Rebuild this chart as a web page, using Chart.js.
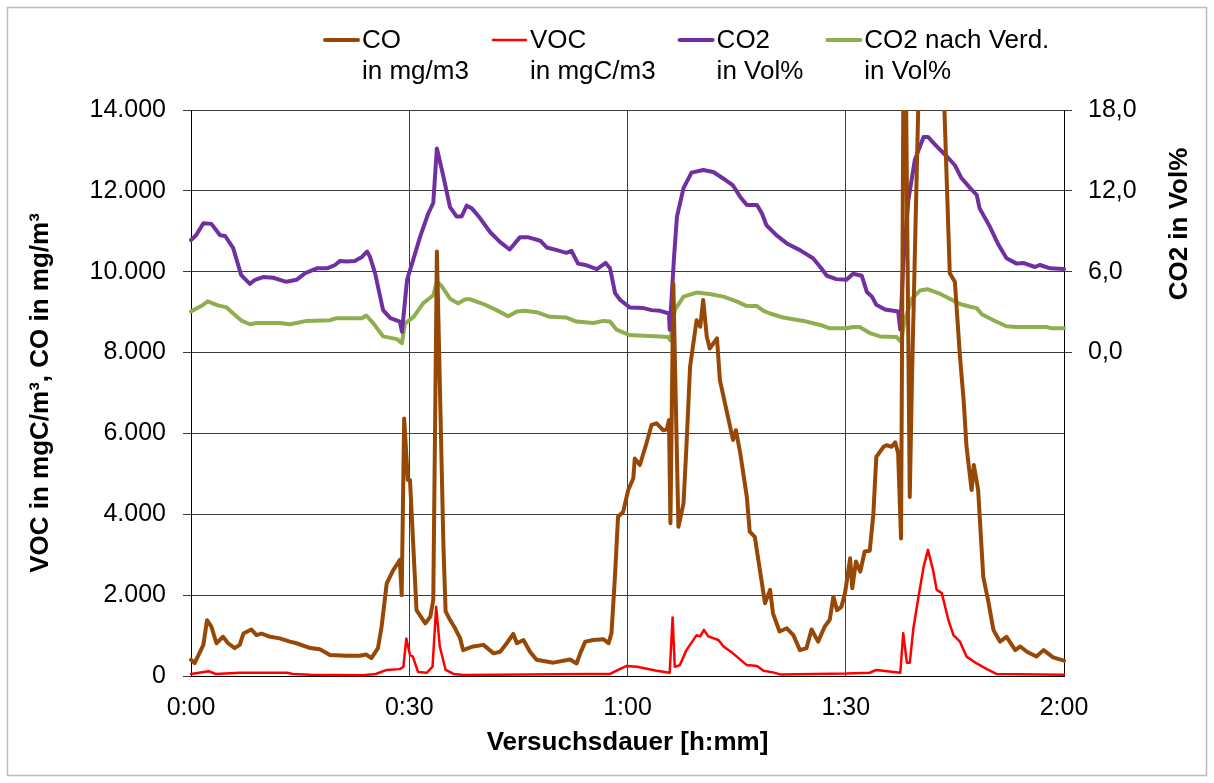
<!DOCTYPE html>
<html>
<head>
<meta charset="utf-8">
<script src="https://cdn.jsdelivr.net/npm/chart.js@4"></script>
<style>
  html, body { margin: 0; padding: 0; background: #fff; }
  #wrap { width: 1214px; height: 783px; }
</style>
</head>
<body>
<div id="wrap"><canvas id="myChart" width="1214" height="783"></canvas></div>
<script>
// Versuchsdauer in Minuten, Messwerte je Kanal
const coMin = [0, 0.5, 1.7, 2.2, 2.8, 3.5, 4.4, 5.1, 6.0, 6.7, 7.2, 8.3, 9.0, 9.7, 10.9, 12.2, 13.6, 14.5, 16.4, 17.7, 19.1, 21.4, 23.2, 24.1, 24.8, 25.7, 26.2, 26.9, 27.8, 28.7, 28.96, 29.3, 29.8, 30.1, 31.0, 32.2, 32.9, 33.3, 33.8, 34.7, 35.0, 35.6, 36.3, 37.0, 37.4, 38.8, 40.2, 41.6, 42.5, 43.4, 44.3, 44.8, 45.7, 46.6, 47.5, 49.8, 52.1, 53.0, 53.5, 54.2, 55.3, 56.7, 57.4, 57.8, 58.3, 58.7, 59.4, 60.1, 60.8, 61.0, 61.7, 62.6, 63.3, 64.0, 64.9, 65.4, 65.7, 65.9, 66.3, 67.0, 67.7, 68.1, 68.6, 69.5, 70.0, 70.4, 70.9, 71.3, 72.3, 72.7, 73.6, 74.5, 74.9, 75.5, 76.4, 76.8, 77.5, 78.2, 78.9, 79.6, 80.0, 80.9, 81.9, 82.8, 83.7, 84.6, 85.3, 86.2, 87.1, 87.8, 88.3, 88.8, 89.4, 89.9, 90.6, 90.9, 91.4, 92.0, 92.6, 93.3, 93.8, 94.2, 95.2, 95.6, 96.3, 96.8, 97.2, 97.6, 98.05, 98.8, 99.1, 100.6, 103.2, 104.3, 105.0, 105.7, 106.2, 106.6, 107.3, 107.6, 108.2, 108.9, 109.6, 110.3, 111.2, 112.1, 113.3, 114.0, 114.9, 116.2, 117.2, 118.5, 120];
const coVal = [400, 320, 770, 1380, 1220, 810, 970, 810, 690, 770, 1050, 1150, 1010, 1050, 970, 930, 850, 810, 690, 660, 520, 500, 500, 530, 440, 690, 1220, 2290, 2620, 2870, 2000, 6370, 4850, 4850, 1630, 1300, 1470, 1880, 10500, 3200, 1600, 1390, 1180, 930, 640, 730, 770, 560, 600, 810, 1040, 810, 890, 600, 400, 330, 410, 310, 560, 850, 890, 910, 810, 1060, 2540, 3940, 4060, 4600, 4890, 5380, 5220, 5750, 6210, 6250, 6080, 6100, 6330, 3780, 9700, 3690, 4270, 5670, 7650, 8800, 8640, 9300, 8390, 8100, 8350, 7320, 6580, 5840, 6080, 5510, 4430, 3570, 3440, 2620, 1800, 2130, 1550, 1100, 1180, 1010, 640, 690, 1150, 850, 1220, 1390, 1960, 1630, 1710, 2050, 2910, 2170, 2830, 2580, 3080, 3100, 4020, 5420, 5670, 5710, 5670, 5780, 5510, 3400, 19000, 4430, 7320, 19000, 16000, 9960, 9750, 7900, 6830, 5670, 4600, 5220, 4600, 2460, 1840, 1140, 850, 970, 640, 730, 600, 480, 640, 460, 380];

const vocMin = [0, 2.4, 3.4, 6.7, 13.2, 14.0, 16.4, 23.6, 25.4, 26.9, 28.7, 29.2, 29.6, 30.1, 30.5, 31.2, 32.4, 33.2, 33.7, 34.2, 35.0, 36.1, 37.5, 54.4, 57.6, 58.5, 59.9, 61.3, 64.0, 65.8, 66.2, 66.5, 67.2, 68.1, 69.5, 70.0, 70.5, 71.1, 72.5, 73.2, 74.5, 76.4, 77.8, 78.7, 80.0, 81.0, 90.1, 93.3, 94.2, 97.5, 97.9, 98.4, 98.8, 99.3, 100.0, 100.7, 101.3, 102.0, 102.5, 103.2, 104.1, 104.8, 105.7, 106.6, 108.0, 109.4, 110.7, 120];
const vocVal = [50, 120, 50, 80, 80, 50, 30, 20, 50, 150, 170, 230, 930, 520, 480, 100, 80, 230, 1710, 730, 150, 50, 25, 50, 50, 130, 250, 230, 130, 80, 1450, 230, 270, 640, 1010, 980, 1140, 980, 890, 730, 560, 270, 250, 130, 90, 40, 60, 80, 150, 80, 1060, 330, 330, 1180, 1960, 2700, 3120, 2620, 2130, 2050, 1390, 1010, 850, 480, 310, 170, 50, 30];

const co2Min = [0, 0.7, 1.7, 2.8, 4.0, 4.7, 5.8, 6.9, 8.1, 8.8, 9.9, 11.3, 13.1, 14.5, 15.7, 17.3, 18.7, 19.8, 20.5, 21.4, 22.5, 23.5, 24.2, 24.6, 25.3, 26.4, 27.4, 28.7, 29.0, 29.7, 30.1, 31.5, 32.6, 33.3, 33.8, 34.7, 35.6, 36.5, 37.2, 37.9, 38.6, 39.7, 41.1, 42.5, 43.8, 45.2, 46.4, 48.0, 48.9, 50.3, 51.6, 52.3, 53.2, 54.2, 55.8, 57.0, 57.6, 58.3, 59.0, 60.3, 62.2, 63.3, 64.5, 65.7, 65.8, 66.4, 66.8, 67.7, 68.8, 70.4, 71.8, 73.2, 74.5, 75.5, 76.4, 77.8, 78.5, 79.1, 80.5, 81.9, 83.7, 85.5, 86.5, 87.4, 88.7, 90.1, 91.0, 92.2, 92.9, 93.6, 94.2, 95.4, 97.2, 97.5, 97.9, 98.6, 99.5, 100.7, 101.3, 102.5, 103.9, 105.0, 105.9, 107.1, 108.0, 108.4, 109.8, 111.0, 112.1, 113.5, 114.4, 116.0, 116.7, 118.1, 120];
const co2Val = [8.35, 8.7, 9.6, 9.55, 8.7, 8.65, 7.75, 5.75, 5.1, 5.4, 5.6, 5.55, 5.25, 5.4, 5.9, 6.25, 6.25, 6.5, 6.8, 6.75, 6.8, 7.1, 7.5, 7.1, 5.9, 3.15, 2.55, 2.3, 1.55, 5.4, 6.1, 8.6, 10.3, 11.1, 15.15, 13.05, 10.8, 10.1, 10.1, 10.9, 10.7, 10.0, 8.95, 8.2, 7.65, 8.55, 8.55, 8.3, 7.8, 7.6, 7.4, 7.55, 6.6, 6.5, 6.2, 6.65, 6.25, 4.4, 3.9, 3.35, 3.3, 3.15, 3.1, 2.9, 1.7, 7.1, 10.1, 12.2, 13.35, 13.55, 13.4, 12.9, 12.4, 11.55, 10.95, 10.95, 10.3, 9.45, 8.7, 8.1, 7.6, 7.0, 6.35, 5.7, 5.45, 5.4, 5.85, 5.7, 4.5, 4.15, 3.55, 3.2, 3.05, 1.7, 6.6, 11.3, 14.3, 16.0, 16.0, 15.3, 14.55, 13.9, 12.95, 12.2, 11.7, 10.7, 9.35, 8.0, 7.0, 6.6, 6.65, 6.35, 6.5, 6.25, 6.2];

const co2vMin = [0, 1.4, 2.3, 3.7, 4.9, 5.8, 7.0, 8.1, 9.0, 12.2, 13.6, 15.9, 19.1, 20.0, 23.5, 24.1, 25.1, 26.4, 28.3, 29.0, 29.4, 30.6, 31.9, 33.3, 33.8, 34.5, 35.6, 36.7, 37.7, 38.4, 40.2, 42.0, 43.6, 44.8, 45.9, 47.5, 49.3, 51.6, 53.0, 55.3, 56.7, 57.6, 58.5, 60.3, 62.2, 64.5, 65.6, 65.9, 66.5, 67.7, 69.5, 71.3, 73.2, 75.0, 76.4, 77.8, 78.7, 79.6, 81.4, 84.2, 86.5, 87.8, 90.1, 91.0, 91.9, 93.3, 94.7, 97.0, 97.6, 98.1, 99.1, 100.2, 101.2, 103.0, 104.3, 105.7, 107.1, 108.0, 108.7, 110.3, 112.1, 113.5, 117.6, 118.3, 120];
const co2vVal = [3.05, 3.45, 3.8, 3.5, 3.35, 2.9, 2.35, 2.1, 2.2, 2.2, 2.1, 2.35, 2.4, 2.55, 2.55, 2.75, 2.15, 1.2, 1.0, 0.7, 2.15, 2.65, 3.65, 4.25, 5.25, 4.9, 4.0, 3.65, 3.95, 3.95, 3.6, 3.15, 2.7, 3.05, 3.1, 3.0, 2.65, 2.6, 2.3, 2.2, 2.35, 2.3, 1.7, 1.3, 1.25, 1.2, 1.15, 0.9, 3.15, 4.15, 4.45, 4.35, 4.15, 3.8, 3.45, 3.45, 3.1, 2.9, 2.6, 2.35, 2.05, 1.8, 1.8, 1.9, 1.9, 1.45, 1.2, 1.15, 0.8, 2.4, 4.0, 4.6, 4.7, 4.35, 4.0, 3.6, 3.4, 3.3, 2.85, 2.4, 1.95, 1.9, 1.9, 1.8, 1.8];

const legendText = [['CO', 'in mg/m3'], ['VOC', 'in mgC/m3'], ['CO2', 'in Vol%'], ['CO2 nach Verd.', 'in Vol%']];
const xTicks = [0, 30, 60, 90, 120];

const toPoints = (xs, ys) => xs.map((x, i) => ({ x: x, y: ys[i] }));

const FONT = "'Liberation Sans', Arial, sans-serif";
Chart.defaults.font.family = FONT;
Chart.defaults.font.size = 25;
Chart.defaults.color = '#000';

const gridColor = '#3c3c3c';

// Rahmen, Legende und rechte Achsenbeschriftung
const extras = {
  id: 'extras',
  beforeDraw(chart) {
    const c = chart.ctx;
    c.save();
    c.fillStyle = '#fff';
    c.fillRect(0, 0, chart.width, chart.height);
    c.strokeStyle = '#bcbcbc';
    c.lineWidth = 1.5;
    c.strokeRect(7.5, 7.5, 1199, 768);
    c.restore();
  },
  afterDraw(chart) {
    const c = chart.ctx;
    c.save();
    c.font = '26px ' + FONT;
    c.textBaseline = 'middle';
    let x = 325;
    chart.data.datasets.forEach((ds, i) => {
      c.strokeStyle = ds.borderColor;
      c.lineWidth = ds.borderWidth;
      c.lineCap = 'round';
      c.beginPath();
      c.moveTo(x, 40);
      c.lineTo(x + 33, 40);
      c.stroke();
      c.fillStyle = '#000';
      c.textAlign = 'left';
      const tx = x + 37;
      c.fillText(legendText[i][0], tx, 41);
      c.fillText(legendText[i][1], tx, 72);
      const w = Math.max(c.measureText(legendText[i][0]).width, c.measureText(legendText[i][1]).width);
      x = tx + w + 24;
    });

    c.font = 'bold 26px ' + FONT;
    c.translate(1180, 224);
    c.rotate(-Math.PI / 2);
    c.textAlign = 'center';
    c.fillText('CO2 in Vol%', 0, 0);
    c.restore();
  }
};

const ctx = document.getElementById('myChart').getContext('2d');
const myChart = new Chart(ctx, {
  type: 'line',
  data: {
    datasets: [
      { label: 'CO in mg/m3', data: toPoints(coMin, coVal), borderColor: '#974806', borderWidth: 4, yAxisID: 'y' },
      { label: 'VOC in mgC/m3', data: toPoints(vocMin, vocVal), borderColor: '#ff0000', borderWidth: 2.5, yAxisID: 'y' },
      { label: 'CO2 in Vol%', data: toPoints(co2Min, co2Val), borderColor: '#7030a0', borderWidth: 4, yAxisID: 'y2' },
      { label: 'CO2 nach Verd. in Vol%', data: toPoints(co2vMin, co2vVal), borderColor: '#8fae4f', borderWidth: 4, yAxisID: 'y2' }
    ]
  },
  options: {
    responsive: false,
    animation: false,
    events: [],
    layout: { padding: { top: 110, left: 0, right: 0, bottom: 0 } },
    elements: {
      point: { radius: 0 },
      line: { tension: 0, borderJoinStyle: 'round', borderCapStyle: 'round' }
    },
    datasets: { line: { clip: { left: 2, right: 2, top: 0, bottom: 3 } } },
    plugins: { legend: { display: false }, tooltip: { enabled: false } },
    scales: {
      x: {
        type: 'linear',
        min: 0,
        max: 120,
        afterBuildTicks: (axis) => { axis.ticks = xTicks.map(v => ({ value: v })); },
        afterFit: (axis) => { axis.height = 783 - 676; },
        ticks: {
          padding: 17,
          maxRotation: 0,
          callback: (v) => Math.floor(v / 60) + ':' + String(v % 60).padStart(2, '0')
        },
        grid: { color: gridColor, lineWidth: 1, drawTicks: false },
        border: { display: true, color: '#000', width: 1 },
        title: { display: true, text: 'Versuchsdauer [h:mm]', font: { weight: 'bold', size: 26 }, padding: { top: 4, bottom: 25 } }
      },
      y: {
        position: 'left',
        min: 0,
        max: 14000,
        afterFit: (axis) => { axis.width = 191; },
        ticks: {
          stepSize: 2000,
          padding: 17,
          callback: (v) => String(v).replace(/\B(?=(\d{3})+(?!\d))/g, '.')
        },
        grid: { color: gridColor, lineWidth: 1, tickLength: 8 },
        border: { display: true, color: '#000', width: 1 },
        title: { display: true, text: 'VOC in mgC/m³, CO in mg/m³', font: { weight: 'bold', size: 26 }, padding: { top: 25, bottom: 4 } }
      },
      y2: {
        position: 'right',
        min: -24,
        max: 18,
        afterFit: (axis) => { axis.width = 1214 - 1064; },
        ticks: {
          stepSize: 6,
          padding: 16,
          callback: (v) => v >= 0 ? v.toFixed(1).replace('.', ',') : ''
        },
        grid: {
          drawOnChartArea: false,
          tickLength: 8,
          lineWidth: 1,
          color: (c) => (c.tick && c.tick.value >= 0) ? gridColor : 'rgba(0,0,0,0)'
        },
        border: { display: true, color: '#000', width: 1 }
      }
    }
  },
  plugins: [extras]
});
</script>
</body>
</html>
